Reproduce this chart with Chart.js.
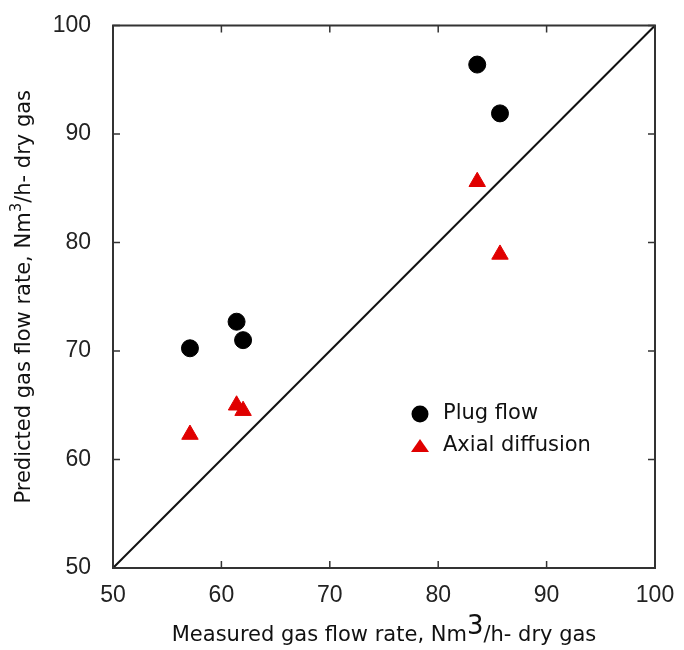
<!DOCTYPE html>
<html>
<head>
<meta charset="utf-8">
<script src="https://cdn.jsdelivr.net/npm/chart.js@4"></script>
<style>
  html, body { margin: 0; padding: 0; background: #fff; }
  #wrap { width: 684px; height: 650px; }
</style>
</head>
<body>
<div id="wrap"><canvas id="myChart" width="684" height="650"></canvas></div>
<script>
// measured flow rate (x) and predicted values (y)
const measured = [57.1, 61.4, 62.0, 83.6, 85.7];
const plugFlow = [70.25, 72.7, 71.0, 96.4, 91.9];
const axialDiffusion = [62.3, 65.0, 64.5, 85.6, 78.9];
const parityLine = [50, 100];
const tickValues = [50, 60, 70, 80, 90, 100];

const frameColor = '#333';
const redColor = '#e00000';

// рамка, внутренние засечки, подписи осей и легенда
const decor = {
  id: 'decor',
  afterDraw(chart) {
    const ctx = chart.ctx;
    const a = chart.chartArea;
    const sx = chart.scales.x, sy = chart.scales.y;
    ctx.save();
    ctx.strokeStyle = frameColor;
    ctx.lineWidth = 2;
    ctx.strokeRect(a.left, a.top, a.right - a.left, a.bottom - a.top);
    ctx.lineWidth = 1.5;
    ctx.beginPath();
    tickValues.forEach(v => {
      const px = sx.getPixelForValue(v);
      ctx.moveTo(px, a.bottom); ctx.lineTo(px, a.bottom - 7);
      ctx.moveTo(px, a.top); ctx.lineTo(px, a.top + 7);
      const py = sy.getPixelForValue(v);
      ctx.moveTo(a.left, py); ctx.lineTo(a.left + 7, py);
      ctx.moveTo(a.right, py); ctx.lineTo(a.right - 7, py);
    });
    ctx.stroke();

    // x title
    ctx.fillStyle = '#111';
    ctx.textBaseline = 'alphabetic';
    const f = '21px "DejaVu Sans"';
    const fsup = '26px "DejaVu Sans"';
    const fsmall = '15px "DejaVu Sans"';
    let p1 = 'Measured gas flow rate, Nm', p2 = '/h- dry gas';
    ctx.font = f;
    const w1 = ctx.measureText(p1).width, w2 = ctx.measureText(p2).width;
    ctx.font = fsup;
    const w3 = ctx.measureText('3').width;
    let x0 = (a.left + a.right) / 2 - (w1 + w2 + w3) / 2;
    const yb = 641;
    ctx.font = f; ctx.textAlign = 'left';
    ctx.fillText(p1, x0, yb);
    ctx.font = fsup;
    ctx.fillText('3', x0 + w1, yb - 7);
    ctx.font = f;
    ctx.fillText(p2, x0 + w1 + w3, yb);

    // y title
    ctx.save();
    ctx.translate(30, (a.top + a.bottom) / 2);
    ctx.rotate(-Math.PI / 2);
    p1 = 'Predicted gas flow rate, Nm';
    ctx.font = f;
    const v1 = ctx.measureText(p1).width, v2 = ctx.measureText(p2).width;
    ctx.font = fsmall;
    const v3 = ctx.measureText('3').width;
    x0 = -(v1 + v2 + v3) / 2;
    ctx.font = f;
    ctx.fillText(p1, x0, 0);
    ctx.font = fsmall;
    ctx.fillText('3', x0 + v1, -9);
    ctx.font = f;
    ctx.fillText(p2, x0 + v1 + v3, 0);
    ctx.restore();

    // legend
    ctx.fillStyle = '#000';
    ctx.beginPath();
    ctx.arc(420, 414, 8.5, 0, Math.PI * 2);
    ctx.fill();
    ctx.fillStyle = redColor;
    ctx.beginPath();
    ctx.moveTo(420, 439); ctx.lineTo(429, 452); ctx.lineTo(411, 452);
    ctx.closePath();
    ctx.fill();
    ctx.fillStyle = '#111';
    ctx.font = f;
    ctx.textBaseline = 'middle';
    ctx.fillText('Plug flow', 443, 414);
    ctx.fillText('Axial diffusion', 443, 446);
    ctx.restore();
  }
};

const tickFont = { family: "'Liberation Sans', Arial, sans-serif", size: 23, lineHeight: 1 };

const ctx1 = document.getElementById('myChart').getContext('2d');
new Chart(ctx1, {
  type: 'scatter',
  data: {
    datasets: [{
      label: 'Plug flow',
      data: measured.map((x, i) => ({x: x, y: plugFlow[i]})),
      backgroundColor: '#000',
      borderColor: '#000',
      pointStyle: 'circle',
      pointRadius: 8.5,
      pointHoverRadius: 8.5
    }, {
      label: 'Axial diffusion',
      data: measured.map((x, i) => ({x: x, y: axialDiffusion[i]})),
      backgroundColor: redColor,
      borderColor: redColor,
      pointStyle: 'triangle',
      pointRadius: 9.5,
      pointHoverRadius: 9.5
    }, {
      label: 'y = x',
      type: 'line',
      data: parityLine.map(v => ({x: v, y: v})),
      borderColor: '#111',
      borderWidth: 2,
      pointRadius: 0,
      showLine: true
    }]
  },
  options: {
    responsive: false,
    animation: false,
    layout: { padding: { top: 25, right: 29, left: 0, bottom: 0 } },
    plugins: { legend: { display: false }, tooltip: { enabled: false } },
    scales: {
      x: {
        type: 'linear', min: 50, max: 100,
        afterFit: s => { s.height = 82; },
        afterBuildTicks: s => { s.ticks = tickValues.map(v => ({value: v})); },
        grid: { display: false },
        border: { display: false },
        ticks: { color: '#222', padding: 8, font: tickFont }
      },
      y: {
        type: 'linear', min: 50, max: 100,
        afterFit: s => { s.width = 113; },
        afterBuildTicks: s => { s.ticks = tickValues.map(v => ({value: v})); },
        grid: { display: false },
        border: { display: false },
        ticks: { color: '#222', padding: 14, font: tickFont }
      }
    }
  },
  plugins: [decor]
});
</script>
</body>
</html>
